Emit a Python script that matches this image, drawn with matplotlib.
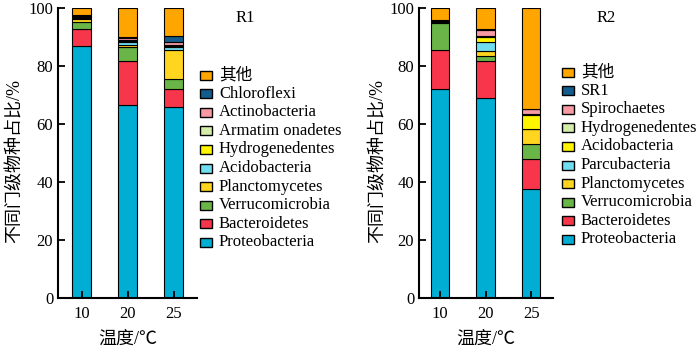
#!/usr/bin/env python3
"""Phylum-level relative abundance for R1 and R2 at three temperatures."""
import matplotlib
matplotlib.use("Agg")
import matplotlib.pyplot as plt
from matplotlib.patches import Rectangle
import numpy as np

plt.rcParams["font.family"] = ["Liberation Serif", "Noto Sans CJK SC"]

temps = ["10", "20", "25"]

# R1, bottom -> top of stack
r1_names = ["Proteobacteria", "Bacteroidetes", "Verrucomicrobia", "Planctomycetes",
            "Acidobacteria", "Hydrogenedentes", "Armatim onadetes", "Actinobacteria",
            "Chloroflexi", "其他"]
r1_colors = ["#00AED4", "#F7364B", "#6AB547", "#FFD520", "#70DEF0", "#FFF500",
             "#D4EDA8", "#F79AA3", "#135C8C", "#FFA500"]
r1_values = [
    [87.0, 66.6, 66.0],
    [5.6, 15.2, 6.2],
    [2.7, 4.6, 3.2],
    [0.9, 1.0, 10.1],
    [0.3, 1.0, 1.0],
    [0.3, 0.4, 0.4],
    [0.2, 0.3, 0.3],
    [0.2, 0.4, 1.2],
    [0.4, 0.5, 2.1],
    [2.4, 10.0, 9.5],
]

# R2, bottom -> top of stack
r2_names = ["Proteobacteria", "Bacteroidetes", "Verrucomicrobia", "Planctomycetes",
            "Parcubacteria", "Acidobacteria", "Hydrogenedentes", "Spirochaetes",
            "SR1", "其他"]
r2_colors = ["#00AED4", "#F7364B", "#6AB547", "#FFD520", "#70DEF0", "#FFF500",
             "#D4EDA8", "#F79AA3", "#135C8C", "#FFA500"]
r2_values = [
    [72.0, 69.1, 37.7],
    [13.5, 12.7, 10.2],
    [9.4, 1.6, 5.1],
    [0.2, 1.8, 5.2],
    [0.1, 3.2, 0.0],
    [0.1, 1.7, 5.0],
    [0.1, 0.4, 0.2],
    [0.1, 1.8, 1.6],
    [0.4, 0.3, 0.2],
    [4.1, 7.4, 34.8],
]

FS = 12


def draw_panel(fig, rect, xlim, names, colors, values, title, title_xy, leg_xy, ylab_x):
    ax = fig.add_axes(rect)
    x = np.arange(len(temps))
    bottom = np.zeros(len(temps))
    for vals, col in zip(values, colors):
        vals = np.array(vals)
        ax.bar(x, vals, bottom=bottom, width=0.4, color=col,
               edgecolor="black", linewidth=0.8)
        bottom += vals
    ax.set_xlim(*xlim)
    ax.set_ylim(0, 100)
    ax.set_xticks(x)
    ax.set_xticklabels(temps, fontsize=FS)
    ax.set_yticks(range(0, 101, 20))
    ax.tick_params(axis="y", labelsize=FS, direction="in", length=5, width=1.3)
    ax.tick_params(axis="x", direction="in", length=5, width=1.3, pad=6)
    for s in ("top", "right"):
        ax.spines[s].set_visible(False)
    for s in ("left", "bottom"):
        ax.spines[s].set_linewidth(1.5)
    ax.set_xlabel("温度/℃", fontsize=FS + 1, labelpad=6)
    fig.text(ylab_x, 0.54, "不同门级物种占比/%", rotation=90, ha="center",
             va="center", fontsize=FS + 1)
    fig.text(title_xy[0], title_xy[1], title, ha="center", va="center", fontsize=FS)

    # legend, top entry first
    lx, ly = leg_xy
    step = 18.6 / 350
    for i, (name, col) in enumerate(zip(names[::-1], colors[::-1])):
        yc = ly - i * step
        fig.patches.append(Rectangle((lx, yc - 4.5 / 350), 12 / 700, 9 / 350,
                                     transform=fig.transFigure, facecolor=col,
                                     edgecolor="black", linewidth=1.0))
        fig.text(lx + 19 / 700, yc, name, ha="left", va="center", fontsize=FS)
    return ax


fig = plt.figure(figsize=(7, 3.5), dpi=100)
draw_panel(fig, [58 / 700, 0.149, 139 / 700, 0.828], (-0.515, 2.507),
           r1_names, r1_colors, r1_values, "R1", (245 / 700, 1 - 18 / 350),
           (200 / 700, 1 - 75 / 350), 15 / 700)
draw_panel(fig, [419 / 700, 0.149, 134 / 700, 0.828], (-0.46, 2.48),
           r2_names, r2_colors, r2_values, "R2", (606 / 700, 1 - 18 / 350),
           (562 / 700, 1 - 72 / 350), 378 / 700)

fig.savefig("out.png", dpi=100)
